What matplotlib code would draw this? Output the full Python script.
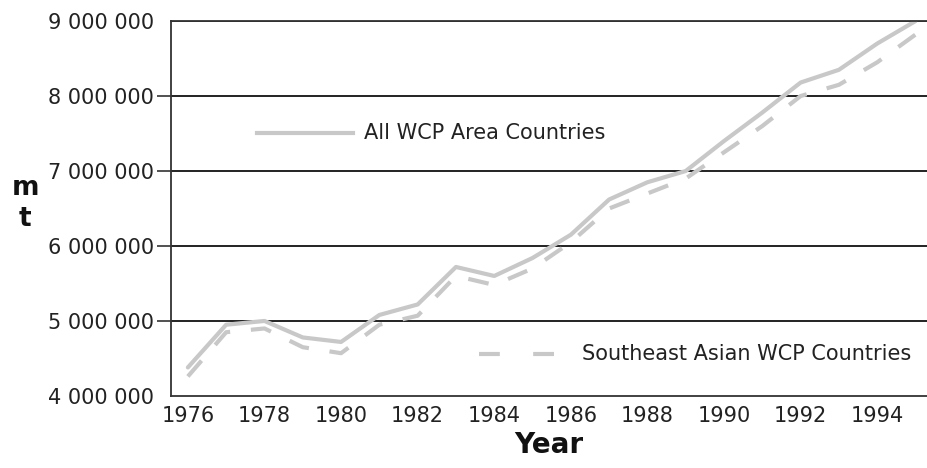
import matplotlib
matplotlib.use("Agg")
import matplotlib.pyplot as plt
from matplotlib.ticker import FuncFormatter

years = list(range(1976, 1996))
all_wcp = [4.38, 4.95, 5.00, 4.78, 4.72, 5.08, 5.22, 5.72, 5.60, 5.84,
           6.15, 6.62, 6.85, 7.00, 7.40, 7.78, 8.18, 8.35, 8.70, 9.00]
se_asian = [4.26, 4.85, 4.90, 4.65, 4.57, 4.95, 5.07, 5.60, 5.48, 5.70,
            6.05, 6.50, 6.70, 6.90, 7.25, 7.60, 8.00, 8.15, 8.45, 8.82]
all_wcp = [v * 1e6 for v in all_wcp]
se_asian = [v * 1e6 for v in se_asian]

y_ticks = [4e6, 5e6, 6e6, 7e6, 8e6, 9e6]
x_ticks = list(range(1976, 1996, 2))

fig = plt.figure(figsize=(9.27, 4.68), dpi=100)
ax = fig.add_axes([0.1845, 0.154, 0.8155, 0.801])

line_col = "#c8c8c8"
dash = (0, (5, 5))
ax.plot(years, all_wcp, color=line_col, lw=3, solid_capstyle="round")
ax.plot(years, se_asian, color=line_col, lw=3, ls=dash)

ax.set_xlim(1975.56, 1995.3)
ax.set_ylim(4e6, 9e6)
ax.set_yticks(y_ticks)
ax.set_xticks(x_ticks)
ax.yaxis.set_major_formatter(FuncFormatter(lambda v, p: f"{int(v):,}".replace(",", " ")))
for y in y_ticks[1:]:
    ax.axhline(y, color="#222222", lw=1.4, zorder=0)

ax.spines["right"].set_visible(False)
for s in ["left", "bottom", "top"]:
    ax.spines[s].set_color("#333333")
    ax.spines[s].set_linewidth(1.3)

ax.tick_params(axis="y", length=10, width=1.2, color="#333333", labelsize=15, pad=2, labelcolor="#222222")
ax.tick_params(axis="x", length=0, labelsize=15, pad=7, labelcolor="#222222")
# no tick marks at the two ends of the y axis
yt = ax.yaxis.get_major_ticks()
for t in (yt[0], yt[-1]):
    t.tick1line.set_visible(False)

# legend-like labels placed inside the plot
ax.plot([1977.8, 1980.3], [7.51e6, 7.51e6], color=line_col, lw=3)
ax.text(1980.6, 7.51e6, "All WCP Area Countries", fontsize=15, va="center", color="#222222")
ax.plot([1983.6, 1986.1], [4.56e6, 4.56e6], color=line_col, lw=3, ls=(0, (5, 8)))
ax.text(1986.3, 4.56e6, "Southeast Asian WCP Countries", fontsize=15, va="center", color="#222222")

ax.set_xlabel("Year", fontsize=20, fontweight="bold", labelpad=4, color="#111111")
fig.text(0.027, 0.565, "m\nt", fontsize=19, fontweight="bold", ha="center", va="center",
         linespacing=1.25, color="#111111")

fig.savefig("out.png", dpi=100)
